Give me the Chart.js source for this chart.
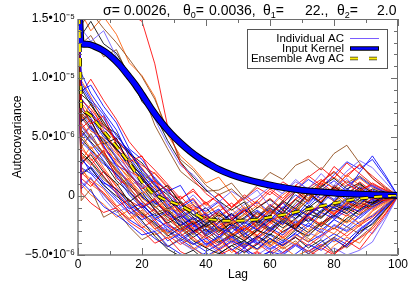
<!DOCTYPE html>
<html>
<head>
<meta charset="utf-8">
<script src="https://cdn.jsdelivr.net/npm/chart.js@4/dist/chart.umd.min.js"></script>
<style>
  html, body { margin: 0; padding: 0; background: #fff; }
  canvas { display: block; }
</style>
</head>
<body>
<canvas id="acChart" width="415" height="291"></canvas>
<script>
// values in units of 1e-6
const LAGS = [0,1,4,8,12,16,20,24,28,32,36,40,44,48,52,56,60,64,68,72,76,80,84,88,92,96,100];

const AC_RUNS = [
  [19, 14.5, 15.6, 14.2, 13.0, 11.6, 10.1, 8.2, 5.6, 3.1, 2.2, 0.9, 0.1, 0.6, -0.4, -1.6, -1.0, -2.2, -1.4, -0.3, 0.9, 0.2, -0.8, 0.6, -0.2, 0.3, 0],
  [20, 15.8, 16.5, 17.0, 16.2, 15.5, 14.8, 11.2, 5.9, 2.8, 1.4, 0.2, -0.6, -1.9, -1.2, -2.8, -1.7, -0.6, 0.4, -0.5, 1.2, 2.1, 1.0, 0.4, 1.1, 0.5, 0],
  [18, 14.2, 13.1, 14.0, 11.8, 10.2, 8.6, 6.5, 4.4, 2.6, 1.8, 0.6, -0.5, 0.4, -0.3, 0.5, -0.9, 0.3, 1.2, 0.6, 1.9, 0.8, 1.5, 0.2, 0.9, 0.4, 0],
  [19, 13.6, 14.8, 12.9, 12.1, 10.3, 8.0, 6.9, 4.7, 2.9, 1.6, 0.5, -0.4, -1.2, -0.5, -2.3, -1.6, -0.4, -1.1, 0.3, -0.6, 0.8, 0.1, 1.0, 0.3, -0.2, 0],
  [21, 15.5, 14.0, 15.2, 13.7, 11.3, 10.2, 8.4, 5.2, 3.4, 2.4, 1.1, 1.6, 0.2, -1.1, -0.4, -1.8, -2.5, -1.3, -0.2, 0.7, -0.5, 0.2, -0.8, 0.1, 0.3, 0],
  [18, 12.9, 13.6, 11.8, 12.4, 10.1, 8.9, 6.0, 4.0, 2.1, 1.2, 0.4, 0.5, 1.1, -0.2, 0.9, 2.0, 1.4, 2.6, 3.1, 2.2, 3.6, 4.3, 2.8, 1.5, 0.7, 0],
  [17, 9.6, 8.2, 6.9, 5.1, 3.8, 2.2, 1.0, -0.4, -1.1, -2.0, -1.5, -2.7, -3.1, -2.2, -2.9, -1.8, -2.4, -1.1, -1.7, -0.6, -1.0, -0.3, -0.7, 0.2, -0.1, 0],
  [18, 7.8, 6.1, 6.8, 4.4, 2.9, 3.4, 1.2, 0.5, -0.8, -0.2, -1.6, -2.5, -1.9, -3.0, -2.1, -1.2, -2.0, -0.9, 0.3, -0.5, 0.8, 0.1, 1.2, 0.4, 0.2, 0],
  [16, 6.3, 7.0, 5.2, 3.9, 3.1, 1.6, 0.3, 0.9, -0.6, -1.8, -2.6, -1.9, -3.2, -3.8, -2.9, -3.3, -2.2, -2.8, -1.5, -1.9, -0.8, -1.2, -0.4, -0.6, 0.1, 0],
  [19, 5.2, 4.0, 4.6, 2.8, 1.4, 0.2, 0.8, -0.9, -1.4, -0.7, -2.2, -1.5, -2.4, -1.6, -0.8, -1.5, -0.4, 0.6, -0.2, 1.3, 0.7, 1.8, 0.9, 0.3, -0.3, 0],
  [17, 8.9, 9.4, 7.6, 6.2, 4.0, 3.1, 1.5, 0.4, 0.9, -0.8, -1.3, -0.5, -1.9, -1.0, -2.3, -1.4, -0.6, -1.6, -0.9, 0.2, -0.4, 0.6, 0.0, 0.5, 0.1, 0],
  [18, 4.1, 5.3, 3.5, 2.2, 0.6, -0.4, -1.5, -1.0, -2.4, -3.3, -2.5, -3.6, -2.8, -1.9, -2.6, -1.7, -0.5, -1.3, 0.2, -0.6, 0.9, 0.3, -0.4, 0.2, -0.1, 0],
  [17, 3.4, 2.6, 3.9, 1.5, 0.8, -0.9, -0.2, -1.7, -2.9, -2.1, -3.5, -4.2, -3.3, -2.5, -3.4, -2.2, -1.5, -2.6, -1.4, -0.8, -1.6, -0.6, -1.0, -0.2, -0.4, 0],
  [16, 10.4, 8.7, 7.1, 5.6, 3.3, 1.8, 0.6, -0.6, -1.9, -1.2, -2.8, -3.5, -2.4, -3.1, -4.0, -3.0, -2.1, -2.9, -1.6, -0.9, -1.8, -0.7, -0.2, -0.8, -0.1, 0],
  [18, 6.8, 5.5, 4.9, 3.6, 2.5, 1.1, 0.0, -1.3, -0.6, -2.0, -1.4, -2.9, -2.2, -3.6, -2.7, -3.9, -2.8, -2.0, -2.9, -1.5, -0.7, -1.4, -0.5, -0.9, -0.2, 0],
  [17, 2.8, 3.5, 2.0, 1.1, -0.5, 0.3, -1.2, -2.3, -1.7, -3.0, -2.4, -1.6, -2.5, -1.8, -1.0, -0.3, -1.2, 0.4, -0.4, 0.8, 1.5, 0.6, 1.1, 0.2, 0.4, 0],
  [16, 5.9, 4.8, 5.6, 3.1, 2.0, 0.7, 1.6, 0.2, -0.9, 0.1, -1.1, -0.4, -1.6, -0.7, -0.1, 0.8, 0.2, 1.4, 0.5, -0.3, 0.9, 2.1, 3.0, 2.4, 1.2, 0],
  [19, 8.1, 7.4, 5.9, 4.8, 3.5, 2.6, 1.9, 0.7, -0.3, 0.6, -0.8, 0.2, -1.0, -0.2, 0.7, 0.1, 1.2, 0.5, 1.6, 2.4, 1.5, 2.8, 1.9, 1.0, 0.5, 0],
  [17, 4.6, 3.8, 2.7, 1.9, 0.4, -0.7, -1.9, -2.6, -3.4, -4.1, -3.6, -4.5, -3.8, -4.4, -3.5, -2.7, -3.3, -2.1, -2.6, -1.4, -1.9, -0.9, -1.3, -0.4, -0.2, 0],
  [18, 3.0, 4.2, 2.4, 0.9, 1.5, -0.2, -1.0, -0.4, -1.8, -1.1, -2.7, -2.0, -3.4, -2.6, -3.7, -4.3, -3.5, -4.1, -3.0, -2.2, -2.8, -1.6, -2.3, -1.2, -0.5, 0],
  [18, 7.3, 6.4, 4.4, 4.9, 2.7, 1.4, 0.2, -1.1, -0.5, -1.6, -2.3, -1.4, -2.1, -1.2, -1.9, -0.8, -1.5, -0.3, -1.0, -0.2, 0.6, -0.1, 0.7, 0.0, 0.2, 0],
  [17, 1.9, 2.5, 1.2, 0.3, -1.1, -0.6, -1.9, -1.3, -2.5, -1.8, -3.1, -2.3, -1.6, -2.4, -1.3, -2.1, -0.9, -1.7, -0.5, 0.4, -0.3, 0.9, 1.6, 0.8, 0.3, 0],
  [16, 5.7, 6.5, 4.1, 3.0, 1.9, 0.6, 1.3, -0.3, -1.4, -0.9, -2.0, -1.3, -0.6, -1.5, -0.4, 0.6, -0.2, 0.9, 1.7, 0.9, 2.5, 1.6, 2.7, 1.5, 0.6, 0],
  [17, 6.0, 4.9, 3.7, 2.3, 1.0, 0.1, -0.8, -2.0, -2.8, -2.2, -3.3, -2.6, -3.9, -3.2, -2.4, -3.0, -1.9, -2.5, -1.2, -1.8, -0.9, -0.2, -0.7, 0.1, -0.2, 0],
  [18, 7.5, 6.6, 5.0, 4.1, 2.4, 1.6, -0.1, 0.6, -1.0, -0.3, -1.7, -1.1, -2.5, -1.9, -1.2, -2.0, -1.0, 0.1, -0.7, 0.5, 1.3, 0.4, 2.0, 3.4, 1.8, 0],
  [17, 2.2, 1.4, 0.6, -0.8, -1.9, -1.2, -2.6, -3.2, -2.5, -3.7, -4.3, -3.6, -4.8, -4.0, -4.6, -3.8, -4.4, -3.3, -3.9, -2.7, -3.2, -2.0, -2.6, -1.3, -0.6, 0],
  [16, 9.1, 7.7, 6.3, 4.6, 3.7, 2.0, 0.9, 0.1, -1.2, -2.4, -1.8, -3.0, -2.3, -3.5, -2.8, -2.0, -2.7, -1.9, -1.1, -1.8, -1.0, -1.5, -0.6, -0.9, -0.3, 0],
  [17, 4.4, 5.1, 3.3, 2.6, 0.9, 1.4, 0.1, -0.7, -2.0, -2.9, -2.1, -3.4, -4.0, -3.2, -3.9, -4.6, -3.7, -4.2, -3.1, -3.6, -2.4, -2.9, -1.7, -1.0, -0.4, 0],
  [18, 1.5, 0.8, 2.1, 0.4, -0.9, -1.8, -1.1, -2.5, -3.1, -2.4, -1.6, -2.7, -2.0, -1.1, -1.8, -0.7, -1.4, -0.2, 0.7, 1.4, 0.6, 1.8, 2.6, 1.7, 0.8, 0],
  [18, 5.4, 4.5, 3.0, 1.7, 0.1, -1.0, -0.4, -1.6, -2.2, -3.0, -4.1, -3.4, -4.6, -3.9, -4.5, -3.6, -4.2, -3.4, -2.5, -3.1, -2.0, -1.2, -1.9, -1.0, -0.3, 0],
  [16, 6.6, 7.8, 5.6, 3.9, 2.6, 1.3, 2.0, 0.8, -0.5, -1.3, -0.6, -1.8, -1.1, -2.2, -1.4, -2.3, -1.5, -2.4, -1.6, -0.9, -1.4, -0.5, -0.9, -0.2, 0.1, 0],
  [17, 3.7, 2.9, 1.6, 0.5, -0.3, -1.5, -2.3, -3.4, -2.7, -3.8, -4.4, -4.9, -4.2, -4.8, -4.1, -3.2, -3.8, -2.9, -3.4, -2.3, -1.6, -2.2, -1.1, -0.5, -0.2, 0],
  [16, 1.2, 0.4, -0.9, -1.6, -2.4, -3.3, -3.0, -4.2, -4.9, -5.4, -4.8, -5.6, -5.1, -4.4, -5.2, -4.7, -5.5, -4.9, -4.1, -4.6, -3.7, -4.3, -2.9, -2.1, -1.0, 0],
  [17, 0.3, -0.6, -1.4, -1.0, -2.2, -2.9, -4.0, -3.5, -4.7, -5.3, -5.8, -5.0, -4.5, -5.4, -4.8, -5.6, -5.2, -5.9, -5.1, -4.4, -5.0, -3.8, -4.5, -3.1, -1.6, 0],
  [17, 2.5, 1.0, 0.2, -1.1, -2.0, -1.4, -2.8, -3.6, -3.1, -4.4, -5.2, -4.6, -5.5, -4.9, -5.7, -5.0, -4.3, -5.1, -4.6, -5.3, -4.2, -3.5, -4.0, -2.6, -1.3, 0],
  [16, 1.8, 2.4, 0.9, 0.0, -0.8, -2.1, -3.4, -4.5, -5.1, -4.6, -5.5, -4.9, -4.2, -3.8, -4.5, -3.6, -4.2, -3.5, -4.4, -3.7, -4.8, -4.1, -3.0, -2.4, -1.2, 0],
  [17, 0.8, 1.6, -0.2, -1.4, -0.9, -2.3, -3.0, -2.6, -3.9, -4.6, -4.0, -4.8, -5.3, -4.6, -5.0, -4.3, -4.9, -4.2, -4.7, -5.1, -4.4, -5.0, -4.6, -3.9, -2.0, 0],
  [18, -0.4, 0.6, -1.8, -1.2, -2.6, -3.7, -3.1, -4.3, -3.6, -4.1, -3.3, -4.0, -3.1, -3.8, -2.9, -3.6, -4.5, -3.8, -4.9, -4.3, -3.5, -2.6, -3.2, -2.0, -0.9, 0],
  [17, 3.3, 2.0, 1.1, 0.6, -0.7, -1.6, -2.5, -3.8, -3.2, -4.0, -4.7, -4.1, -3.5, -4.3, -3.7, -4.5, -3.9, -3.2, -3.9, -3.3, -2.5, -3.0, -2.2, -1.7, -0.8, 0],
  [16, 4.0, 3.2, 1.7, 0.2, -1.5, -2.7, -2.0, -3.3, -4.1, -3.5, -4.4, -3.7, -4.5, -5.2, -4.7, -5.4, -4.8, -4.0, -4.7, -4.1, -4.9, -4.2, -3.6, -2.8, -1.5, 0],
  [17, 8.3, 7.1, 5.8, 4.9, 2.6, 1.9, 0.4, -0.9, -1.6, -2.4, -3.2, -2.6, -3.5, -2.8, -2.0, -2.7, -1.8, -2.3, -1.5, -0.8, -1.3, -0.4, -0.9, -0.3, 0.1, 0],
  [18, 6.2, 5.0, 3.6, 2.1, 1.3, -0.5, -1.3, -2.1, -1.5, -2.8, -3.6, -2.9, -3.7, -4.4, -3.6, -2.9, -3.5, -2.6, -1.8, -2.4, -1.2, -1.7, -0.8, -1.1, -0.4, 0],
  [17, 9.8, 8.4, 6.2, 4.4, 3.2, 2.4, 0.8, -0.2, -1.3, -0.7, -1.9, -2.8, -2.1, -2.9, -2.2, -1.3, -2.0, -1.0, -1.6, -0.4, 0.3, -0.5, 0.6, 0.1, 0.2, 0],
  [18, 4.9, 3.9, 2.9, 1.3, 0.3, -0.8, -1.7, -1.2, -2.6, -3.5, -2.8, -3.9, -3.3, -4.1, -3.4, -4.0, -3.0, -2.4, -3.1, -2.2, -2.8, -1.9, -1.2, -0.7, -0.3, 0],
  [16, 3.1, 2.3, 1.0, -0.2, -1.3, -2.0, -1.5, -2.9, -3.6, -3.0, -4.2, -3.5, -2.7, -3.3, -2.5, -1.7, -2.4, -1.5, -2.1, -1.2, -0.5, -1.0, 0.2, -0.3, 0.1, 0],
  [17, 7.0, 6.3, 4.5, 3.3, 1.7, 0.9, -0.3, -1.6, -1.0, -2.3, -1.7, -2.9, -2.3, -1.5, -2.2, -1.1, -1.8, -0.6, 0.5, 1.2, 2.0, 1.1, 1.7, 0.9, 0.4, 0],
  [16, 2.0, 1.2, 0.3, -0.9, -0.3, -1.7, -2.8, -2.2, -3.4, -2.7, -3.9, -4.6, -3.9, -4.7, -4.0, -4.8, -4.1, -3.5, -4.2, -3.4, -2.7, -3.4, -2.5, -1.8, -0.9, 0],
  [18, 6.6, 5.7, 4.3, 2.6, 2.0, 0.4, -0.7, -0.1, -1.5, -2.6, -2.0, -1.2, -2.1, -1.3, -0.5, -1.4, -0.6, 0.5, 1.4, 0.7, 1.8, 2.9, 2.3, 3.1, 1.6, 0],
  [17, 4.3, 3.0, 3.8, 2.0, 0.5, -1.1, -2.0, -1.5, -2.9, -2.1, -3.0, -2.2, -3.3, -2.6, -3.5, -2.7, -3.6, -2.8, -3.8, -3.0, -3.9, -3.1, -2.4, -1.6, -0.7, 0],
  [17, 8.6, 7.9, 6.0, 5.3, 3.6, 2.8, 1.4, 0.3, -0.4, -1.6, -1.0, -2.2, -1.5, -2.6, -1.9, -2.8, -2.0, -1.4, -2.2, -1.3, -0.6, -1.1, -0.2, -0.6, -0.1, 0],
  [16, 5.0, 5.9, 4.2, 2.5, 1.1, 0.0, -1.1, -2.4, -3.0, -2.3, -3.4, -2.7, -1.9, -2.8, -1.9, -1.0, -1.7, -0.8, 0.1, -0.7, 0.4, -0.3, 0.8, 0.2, 0.3, 0],
  [18, 2.6, 3.7, 2.2, 0.8, -0.4, -1.0, -0.3, -1.4, -2.2, -3.1, -2.5, -3.3, -2.6, -3.7, -3.0, -2.2, -3.1, -2.4, -1.7, -2.5, -1.5, -0.8, -1.4, -0.6, -0.2, 0],
  [17, 7.1, 6.0, 4.7, 3.4, 2.2, 1.0, 0.1, -1.0, -1.7, -1.1, -2.4, -1.8, -2.7, -2.0, -2.9, -2.1, -1.3, -2.0, -1.1, -1.7, -0.9, -1.5, -2.4, -3.2, -1.8, 0],
  [16, 1.0, 0.1, -0.7, -1.8, -1.2, -2.5, -3.3, -2.8, -3.9, -4.5, -3.8, -4.4, -3.6, -4.3, -3.5, -4.2, -3.3, -2.6, -3.3, -2.4, -1.7, -2.3, -1.5, -0.9, -0.4, 0],
  [18, 5.6, 4.6, 3.4, 1.8, 0.9, -0.1, -0.9, -1.8, -2.5, -1.9, -3.0, -2.2, -1.5, -2.3, -1.4, -2.2, -1.2, -1.9, -0.8, -1.4, -0.5, 0.5, -0.1, 0.6, 0.2, 0],
  [17, 9.3, 8.0, 6.6, 4.7, 3.9, 2.3, 1.1, -0.3, -1.4, -2.5, -3.3, -4.0, -3.4, -4.2, -3.4, -4.1, -4.8, -4.1, -4.7, -3.9, -3.2, -3.8, -2.8, -2.0, -0.9, 0],
  [17, 6.4, 7.2, 5.3, 3.8, 2.1, 1.5, 0.3, -0.8, 0.0, -1.2, -0.5, -1.7, -1.0, 0.1, -0.7, 0.4, -0.4, 0.9, 0.2, 1.1, 0.3, 1.3, 0.6, 0.9, 0.3, 0],
  [18, 3.5, 2.8, 1.4, 0.6, -0.6, -1.4, -2.4, -3.1, -2.4, -3.2, -2.4, -3.3, -2.5, -3.2, -2.3, -3.0, -2.1, -2.8, -3.6, -4.3, -3.6, -4.4, -3.5, -2.6, -1.2, 0],
  [16, 7.9, 6.9, 5.4, 4.0, 2.9, 1.7, 0.6, -0.4, -1.2, -0.5, -1.5, -0.8, -1.7, -0.9, -1.8, -1.0, 0.1, 0.8, 0.1, 0.9, 1.6, 0.8, 1.5, 0.7, 0.3, 0],
  [17, 0.6, 1.5, 0.1, -1.1, -2.0, -2.7, -3.6, -4.3, -3.7, -4.4, -5.1, -4.5, -5.3, -4.6, -5.4, -4.7, -5.0, -4.2, -4.9, -4.2, -3.5, -4.1, -3.2, -2.3, -1.1, 0],
  [17, 6.9, 5.8, 4.8, 3.2, 1.8, 0.8, -0.6, -1.4, -2.1, -3.0, -2.3, -3.1, -2.3, -3.0, -2.1, -2.9, -2.0, -2.7, -1.9, -2.6, -1.7, -1.0, -1.6, -0.7, -0.2, 0],
  [18, 8.7, 9.9, 8.1, 6.5, 4.6, 3.3, 2.2, 1.0, -0.2, 0.4, -0.6, 0.1, -0.9, -0.1, -1.0, -0.2, -1.1, -0.3, 0.5, -0.2, 0.7, 0.0, 0.5, -0.1, 0.1, 0],
  [16, 2.4, 1.9, 0.7, -0.4, -1.5, -0.9, -2.2, -3.0, -3.8, -3.1, -2.4, -3.3, -2.5, -3.4, -4.1, -3.3, -4.0, -3.1, -2.3, -2.9, -2.0, -2.6, -1.7, -0.9, -0.5, 0],
  [17, 5.1, 6.0, 4.0, 2.7, 1.6, 0.5, -0.5, -1.2, -1.9, -2.7, -2.0, -2.8, -3.5, -2.7, -3.3, -2.4, -1.7, -2.5, -1.6, -0.9, -1.5, -0.6, -1.1, -0.4, -0.1, 0]
];
// colour key per run (n brown, r red, p purple, k black, o orange, b blue)
const RUN_KEYS = 'nrpkon' + 'brkobnrbokprbokbrnbokprbok' + 'brokpnbr' + 'brokbnrbokbrpokbrnobkrbo';

const KERNEL_LAGS = [0, 1, 3, 5, 8, 10, 13, 16, 18, 20, 23, 26, 29, 32, 35, 38, 41, 44, 48, 52, 57, 62, 69, 75, 80, 85, 90, 95, 100];
const KERNEL_VALS = [20, 12.9, 12.85, 12.7, 12.3, 11.9, 11.1, 10.1, 9.4, 8.6, 7.35, 6.25, 5.3, 4.5, 3.8, 3.2, 2.7, 2.25, 1.8, 1.45, 1.1, 0.82, 0.52, 0.36, 0.26, 0.19, 0.13, 0.08, 0.04];

const ENS_LAGS = [0, 1, 4, 8, 12, 16, 20, 23, 27, 32, 36, 39, 45, 50, 56, 62, 66, 72, 77, 82, 87, 92, 97, 100];
const ENS_VALS = [20, 7.4, 6.8, 5.5, 4.2, 2.8, 1.2, 0.3, -0.3, -0.8, -1.4, -1.9, -2.1, -2.1, -2.0, -1.7, -1.5, -1.1, -0.8, -0.5, -0.25, -0.1, 0.0, 0.0];

const Y_TICK_VALUES = [-5, 0, 5, 10, 15];
const Y_TICK_LABELS = ['\u22125.0\u202210\u207B\u2076', '0', '5.0\u202210\u207B\u2076', '1.0\u202210\u207B\u2075', '1.5\u202210\u207B\u2075'];
const X_TICK_VALUES = [0, 20, 40, 60, 80, 100];

const PAL = {
  b: 'rgba(0,0,255,0.85)', r: 'rgba(255,0,0,0.85)', o: 'rgba(255,90,0,0.85)',
  k: 'rgba(0,0,0,0.85)', n: 'rgba(139,69,19,0.85)', p: 'rgba(110,90,255,0.85)'
};
const FONT = '"Liberation Sans", Arial, Helvetica, sans-serif';
const f = s => s + 'px ' + FONT;
const pts = (xs, ys) => xs.map((x, i) => ({x, y: ys[i]}));

const datasets = [];
datasets.push({data: pts(ENS_LAGS, ENS_VALS), borderColor: '#ffee00', borderWidth: 2, borderDash: [8, 6], order: 0});
datasets.push({data: pts(ENS_LAGS, ENS_VALS), borderColor: '#000', borderWidth: 3.5, borderDash: [8, 6], order: 1});
datasets.push({data: pts(KERNEL_LAGS, KERNEL_VALS), borderColor: '#0000ff', borderWidth: 5, cubicInterpolationMode: 'monotone', order: 2});
datasets.push({data: pts(KERNEL_LAGS, KERNEL_VALS), borderColor: '#000', borderWidth: 7, cubicInterpolationMode: 'monotone', order: 3});
AC_RUNS.forEach((run, i) => {
  datasets.push({data: pts(LAGS, run), borderColor: PAL[RUN_KEYS[i]], borderWidth: 1, order: 4 + i});
});
datasets.forEach(d => { d.clip = 0; d.pointRadius = 0; d.fill = false; });

function thetaTerm(ctx, x, y, sub) {
  ctx.font = f(14); ctx.fillText('\u03B8', x, y);
  let w = ctx.measureText('\u03B8').width;
  ctx.font = f(9); ctx.fillText(sub, x + w, y + 3);
  w += ctx.measureText(sub).width;
  ctx.font = f(14); ctx.fillText('=', x + w, y);
}

const decor = {
  id: 'decor',
  afterDatasetsDraw(chart) {
    const {ctx, chartArea: a, scales: {x, y}} = chart;
    ctx.save();
    // frame
    ctx.strokeStyle = '#6e6e6e'; ctx.lineWidth = 1;
    ctx.strokeRect(a.left + 0.5, a.top + 0.5, a.right - a.left - 1, a.bottom - a.top - 1);
    ctx.strokeStyle = '#9a9a9a'; ctx.lineWidth = 2;
    ctx.beginPath(); ctx.moveTo(a.left, a.top); ctx.lineTo(a.left, a.bottom); ctx.lineTo(a.right, a.bottom); ctx.stroke();
    // inward ticks
    ctx.strokeStyle = '#6e6e6e'; ctx.lineWidth = 1;
    ctx.beginPath();
    for (let v = -5; v <= 15; v++) {
      const py = Math.round(y.getPixelForValue(v)) + 0.5, len = v % 5 === 0 ? 7 : 4;
      ctx.moveTo(a.left, py); ctx.lineTo(a.left + len, py);
      ctx.moveTo(a.right, py); ctx.lineTo(a.right - len, py);
    }
    for (let v = 0; v <= 100; v += 10) {
      const px = Math.round(x.getPixelForValue(v)) + 0.5, len = v % 20 === 0 ? 7 : 4;
      ctx.moveTo(px, a.bottom); ctx.lineTo(px, a.bottom - len);
      ctx.moveTo(px, a.top); ctx.lineTo(px, a.top + len);
    }
    ctx.stroke();
    ctx.restore();
  },
  afterDraw(chart) {
    const ctx = chart.ctx;
    ctx.save();
    // title
    ctx.fillStyle = '#000'; ctx.textBaseline = 'alphabetic'; ctx.textAlign = 'left';
    ctx.font = f(14);
    ctx.fillText('\u03C3= 0.0026,', 103, 15);
    thetaTerm(ctx, 183, 15, '0');
    ctx.fillText('0.0036,', 209, 15);
    thetaTerm(ctx, 263, 15, '1');
    ctx.fillText('22.,', 305, 15);
    thetaTerm(ctx, 337, 15, '2');
    ctx.fillText('2.0', 377, 15);
    // legend
    ctx.fillStyle = '#fff'; ctx.fillRect(247.5, 29.5, 140, 39);
    ctx.strokeStyle = '#555'; ctx.lineWidth = 1; ctx.strokeRect(247.5, 29.5, 140, 39);
    ctx.fillStyle = '#000'; ctx.font = f(11.5); ctx.textAlign = 'right'; ctx.textBaseline = 'middle';
    ctx.fillText('Individual AC', 344, 38.5);
    ctx.fillText('Input Kernel', 344, 48.5);
    ctx.fillText('Ensemble Avg AC', 344, 58.5);
    ctx.lineCap = 'butt';
    ctx.strokeStyle = '#7a5cff'; ctx.lineWidth = 1;
    ctx.beginPath(); ctx.moveTo(350, 38.5); ctx.lineTo(379, 38.5); ctx.stroke();
    ctx.strokeStyle = '#000'; ctx.lineWidth = 4.5;
    ctx.beginPath(); ctx.moveTo(350, 48.5); ctx.lineTo(379, 48.5); ctx.stroke();
    ctx.strokeStyle = '#0000ff'; ctx.lineWidth = 2.5;
    ctx.beginPath(); ctx.moveTo(351, 48.5); ctx.lineTo(378, 48.5); ctx.stroke();
    ctx.setLineDash([8, 11]);
    ctx.strokeStyle = '#333'; ctx.lineWidth = 3.5;
    ctx.beginPath(); ctx.moveTo(350, 58.5); ctx.lineTo(379, 58.5); ctx.stroke();
    ctx.strokeStyle = '#ffee00'; ctx.lineWidth = 2;
    ctx.beginPath(); ctx.moveTo(350, 58.5); ctx.lineTo(379, 58.5); ctx.stroke();
    ctx.restore();
  }
};

new Chart(document.getElementById('acChart'), {
  type: 'line',
  data: {datasets},
  options: {
    responsive: false,
    animation: false,
    events: [],
    layout: {padding: {top: 19, right: 17, left: 0, bottom: 0}},
    plugins: {legend: {display: false}, tooltip: {enabled: false}},
    scales: {
      x: {
        type: 'linear', min: 0, max: 100,
        afterBuildTicks: s => { s.ticks = X_TICK_VALUES.map(v => ({value: v})); },
        afterFit: s => { s.height = 36; },
        grid: {display: false, drawTicks: false},
        border: {display: false},
        ticks: {color: '#000', font: {family: FONT, size: 12}, padding: 2, maxRotation: 0},
        title: {display: true, text: 'Lag', color: '#000', font: {family: FONT, size: 12}, padding: {top: 0, bottom: 9}}
      },
      y: {
        type: 'linear', min: -5, max: 15,
        afterBuildTicks: s => { s.ticks = Y_TICK_VALUES.map(v => ({value: v})); },
        afterFit: s => { s.width = 78; },
        grid: {display: false, drawTicks: false},
        border: {display: false},
        ticks: {
          color: '#000', font: {family: FONT, size: 12}, padding: 3,
          callback: v => Y_TICK_LABELS[Y_TICK_VALUES.indexOf(v)]
        },
        title: {display: true, text: 'Autocovariance', color: '#000', font: {family: FONT, size: 12}, padding: {top: 10, bottom: 0}}
      }
    }
  },
  plugins: [decor]
});
</script>
</body>
</html>
